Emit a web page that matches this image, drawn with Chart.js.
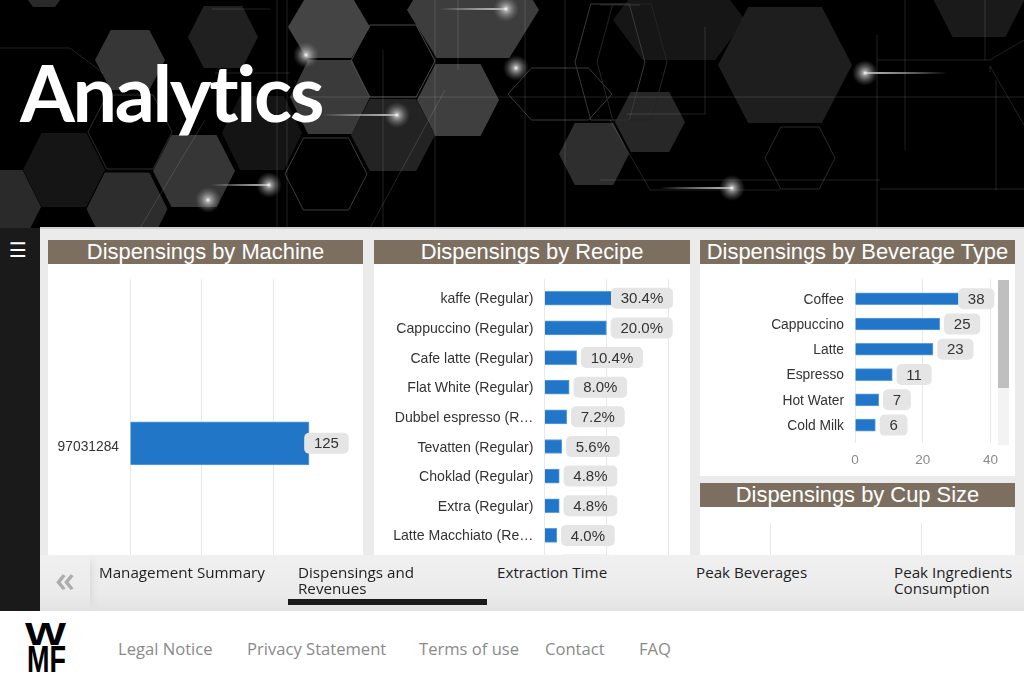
<!DOCTYPE html>
<html>
<head>
<meta charset="utf-8">
<title>Analytics</title>
<script src="https://cdn.jsdelivr.net/npm/chart.js@4/dist/chart.umd.js"></script>
<style>
html, body { margin: 0; padding: 0; width: 1024px; height: 683px; overflow: hidden; background: #fff; }
.abs { position: absolute; }
#hero { left: 0; top: 0; width: 1024px; height: 228px; background: #000; overflow: hidden; }
#heroArt { position: absolute; left: 0; top: 0; filter: blur(0.5px); }
#hero h1 { position: absolute; left: 20px; top: 38px; margin: 0; color: #fff; font: 700 79px Lato, sans-serif; letter-spacing: -2.3px; line-height: 108px; }
#side { left: 0; top: 228px; height: 383px; background: #1a1a1a; color: #fff; font: 20px "DejaVu Sans", sans-serif; text-align: center; line-height: 44px; width: 36px; padding-right: 4px; }
#content { left: 40px; top: 228px; width: 984px; height: 327px; background: #ebebeb; }
#topline { left: 40px; top: 227px; width: 984px; height: 2px; background: #cfcfcf; }
.head { background: #7d6f60; color: #fff; font: 21.9px "Liberation Sans", Arial, sans-serif; text-align: center; line-height: 24px; height: 24px; width: 315px; white-space: nowrap; }
.body { background: #fff; width: 315px; overflow: hidden; }
.body canvas { display: block; }
#nav { left: 40px; top: 555px; width: 984px; height: 56px; background: linear-gradient(#f0f0f0, #ebebeb 70%, #e2e2e2); font: 15.2px/16px "Open Sans", sans-serif; color: #1f1f1f; }
#nav div { position: absolute; top: 9px; white-space: nowrap; }
#arrow { left: 0; top: 0 !important; width: 50px; height: 56px; box-shadow: 7px 0 8px -6px #d4d4d4; color: #adadad; font: 600 36px/48px "Open Sans", sans-serif; text-align: center; }
#tabline { left: 248px; top: 44px !important; width: 199px; height: 6px; background: #1a1a1a; }
#footer { left: 0; top: 611px; width: 1024px; height: 72px; background: #fff; font: 16.6px "Open Sans", sans-serif; color: #8a8a8a; }
#footer span { position: absolute; top: 26px; white-space: nowrap; }
#thumb { left: 998px; top: 280px; width: 11px; height: 108px; background: #bfbfbf; }
#track { left: 998px; top: 388px; width: 11px; height: 57px; background: #f3f3f3; }
</style>
</head>
<body>
<div id="hero" class="abs">
  <svg id="heroArt" width="1024" height="228">
    <defs>
      <radialGradient id="glow">
        <stop offset="0" stop-color="#fff"/>
        <stop offset="0.2" stop-color="#ccc" stop-opacity="0.75"/>
        <stop offset="1" stop-color="#777" stop-opacity="0"/>
      </radialGradient>
      <linearGradient id="streakL" x1="0" x2="1">
        <stop offset="0" stop-color="#fff" stop-opacity="0"/>
        <stop offset="1" stop-color="#bbb"/>
      </linearGradient>
      <linearGradient id="streakR" x1="1" x2="0">
        <stop offset="0" stop-color="#fff" stop-opacity="0"/>
        <stop offset="1" stop-color="#bbb"/>
      </linearGradient>
    </defs>
  </svg>
  <h1>Analytics</h1>
</div>
<div id="side" class="abs">☰</div>
<div id="content" class="abs"></div>
<div id="topline" class="abs"></div>

<div class="abs head" style="left:48px;top:240px">Dispensings by Machine</div>
<div class="abs body" style="left:48px;top:264px;height:291px"><canvas id="machineChart" width="315" height="400"></canvas></div>

<div class="abs head" style="left:374px;top:240px;width:316px">Dispensings by Recipe</div>
<div class="abs body" style="left:374px;top:264px;height:291px;width:316px"><canvas id="recipeChart" width="316" height="400"></canvas></div>

<div class="abs head" style="left:700px;top:240px">Dispensings by Beverage Type</div>
<div class="abs body" style="left:700px;top:264px;height:212px"><canvas id="beverageChart" width="315" height="212"></canvas></div>
<div id="track" class="abs"></div>
<div id="thumb" class="abs"></div>

<div class="abs head" style="left:700px;top:483px">Dispensings by Cup Size</div>
<div class="abs body" style="left:700px;top:507px;height:48px"><canvas id="cupChart" width="315" height="200"></canvas></div>

<div id="nav" class="abs">
  <div id="arrow">«</div>
  <div style="left:59px">Management Summary</div>
  <div style="left:258px">Dispensings and<br>Revenues</div>
  <div style="left:457px">Extraction Time</div>
  <div style="left:656px">Peak Beverages</div>
  <div style="left:854px">Peak Ingredients<br>Consumption</div>
  <div id="tabline"></div>
</div>

<div id="footer" class="abs">
  <svg width="70" height="72" style="position:absolute;left:0;top:0">
    <text x="25" y="34" font-family="Liberation Sans" font-weight="bold" font-size="31" textLength="41" lengthAdjust="spacingAndGlyphs">W</text>
    <text x="27" y="61" font-family="Liberation Sans" font-weight="bold" font-size="36" textLength="39" lengthAdjust="spacingAndGlyphs">MF</text>
  </svg>
  <span style="left:118px">Legal Notice</span>
  <span style="left:247px">Privacy Statement</span>
  <span style="left:419px">Terms of use</span>
  <span style="left:545px">Contact</span>
  <span style="left:639px">FAQ</span>
</div>

<script>
const machineLabels = ['97031284'];
const machineValues = [125];

const recipeLabels = ['kaffe (Regular)', 'Cappuccino (Regular)', 'Cafe latte (Regular)', 'Flat White (Regular)',
  'Dubbel espresso (R…', 'Tevatten (Regular)', 'Choklad (Regular)', 'Extra (Regular)', 'Latte Macchiato (Re…', ''];
const recipePercent = [30.4, 20.0, 10.4, 8.0, 7.2, 5.6, 4.8, 4.8, 4.0, 3.2];

const beverageLabels = ['Coffee', 'Cappuccino', 'Latte', 'Espresso', 'Hot Water', 'Cold Milk'];
const beverageValues = [38, 25, 23, 11, 7, 6];

const cupLabels = [];
const cupValues = [];

// background picture of the header, just decoration
const heroFilled = [
  [130,60,35,30,'#363636'], [223,37,35,31,'#202020'], [329,27,41,31,'#444'], [473,10,66,48,'#3d3d3d'],
  [458,100,41,36,'#3f3f3f'], [330,97,40,37,'#3a3a3a'], [393,135,42,36,'#232323'], [262,133,40,37,'#141414'],
  [194,171,41,36,'#363636'], [64,170,41,37,'#151515'], [127,209,41,37,'#2d2d2d'], [0,207,41,37,'#2a2a2a'],
  [44,-5,20,12,'#2a2a2a'], [679,20,66,40,'#161616'], [785,65,67,58,'#1e1e1e'], [650,122,35,30,'#272727'],
  [594,154,35,31,'#2e2e2e'], [979,-5,48,42,'#1a1a1a']
];
const heroOutlined = [
  [393,61,42,36,'#4a4a4a'], [326,174,41,36,'#3c3c3c'], [130,132,42,37,'#2c2c2c'], [127,209,41,37,'#000'],
  [610,62,35,58,'#3a3a3a'], [560,94,52,26,'#3a3a3a'], [800,158,35,31,'#2a2a2a'], [632,62,35,58,'#242424']
];
const heroLines = [
  [277,0,277,228], [287,0,287,228], [383,50,383,228], [435,0,435,228], [458,0,458,70], [525,0,525,228],
  [565,0,565,228], [705,27,705,114], [627,114,705,114], [877,35,877,228], [905,0,905,150], [985,0,985,60],
  [996,80,996,190], [290,97,1024,97], [215,73,290,73], [0,48,60,48], [60,48,70,48], [70,48,103,73],
  [640,5,600,5], [212,9,270,9], [877,60,990,60], [990,60,1024,40], [990,66,1024,125], [600,180,880,180],
  [880,189,1024,189], [610,120,650,190], [650,190,780,190], [990,66,990,72], [140,228,205,120], [370,228,445,90]
];
const heroGlows = [[506,9,-66],[306,55,0],[516,68,0],[865,73,82],[397,115,-75],[269,185,-58],[208,200,0],[732,188,-72]];

function buildHero() {
  const svg = document.getElementById('heroArt');
  const add = (tag, attrs) => {
    const el = document.createElementNS('http://www.w3.org/2000/svg', tag);
    for (const k in attrs) el.setAttribute(k, attrs[k]);
    svg.appendChild(el);
  };
  const pts = h => {
    const c = h[0], t = h[1], r = h[2], s = h[3], q = r * 0.55;
    return [[c-r,t],[c-q,t-s],[c+q,t-s],[c+r,t],[c+q,t+s],[c-q,t+s]].map(p => p.join(',')).join(' ');
  };
  heroFilled.forEach(h => add('polygon', {points: pts(h), fill: h[4]}));
  heroOutlined.forEach(h => add('polygon', {points: pts(h), fill: 'none', stroke: h[4], 'stroke-width': 1}));
  heroLines.forEach(l => add('line', {x1: l[0], y1: l[1], x2: l[2], y2: l[3], stroke: '#fff', 'stroke-opacity': 0.13, 'stroke-width': 1}));
  heroGlows.forEach(g => {
    if (g[2] < 0) add('rect', {x: g[0]+g[2], y: g[1]-1, width: -g[2], height: 2, fill: 'url(#streakL)'});
    if (g[2] > 0) add('rect', {x: g[0], y: g[1]-1, width: g[2], height: 2, fill: 'url(#streakR)'});
    add('circle', {cx: g[0], cy: g[1], r: 13, fill: 'url(#glow)'});
  });
}
buildHero();

// grey pill with the value, pushed back inside when it would run over the right limit
const pillPlugin = {
  id: 'valuePills',
  afterDatasetsDraw(chart, args, opts) {
    const ctx = chart.ctx;
    const values = chart.data.datasets[0].data;
    ctx.save();
    ctx.font = '15px "Liberation Sans", Arial, sans-serif';
    ctx.textAlign = 'center';
    ctx.textBaseline = 'middle';
    chart.getDatasetMeta(0).data.forEach((bar, i) => {
      const text = opts.format(values[i].x);
      const w = ctx.measureText(text).width + 19.5;
      const left = Math.min(bar.x + 4.3, opts.limit - w);
      ctx.fillStyle = '#e5e5e5';
      ctx.beginPath();
      ctx.roundRect(left, bar.y - 10.5, w, 21, 5);
      ctx.fill();
      ctx.fillStyle = '#333';
      ctx.fillText(text, left + w / 2, bar.y + 1);
    });
    ctx.restore();
  }
};

// labels may stick out of the plot, keep the plot box where it was asked for
function noPadding(scale) {
  scale.paddingLeft = scale.paddingRight = scale.paddingTop = scale.paddingBottom = 0;
}

function makeChart(id, labels, values, o) {
  const canvas = document.getElementById(id);
  return new Chart(canvas, {
    type: 'bar',
    data: {
      datasets: [{
        data: values.map((v, i) => ({x: v, y: i})),
        backgroundColor: '#2176c8',
        borderColor: '#5c9fe3',
        borderWidth: 1,
        barThickness: o.thick
      }]
    },
    options: {
      indexAxis: 'y',
      responsive: false,
      animation: false,
      layout: {padding: {top: o.top, right: canvas.width - o.right, left: 0, bottom: 0}},
      plugins: {
        legend: {display: false},
        tooltip: {enabled: false},
        valuePills: {limit: o.limit, format: o.format}
      },
      scales: {
        x: {
          min: 0,
          max: o.xMax,
          border: {display: false},
          grid: {color: '#e8e8e8', drawTicks: false},
          afterFit(scale) { scale.height = o.axisH; noPadding(scale); },
          ticks: {
            stepSize: o.step,
            includeBounds: false,
            maxRotation: 0,
            padding: 9,
            color: '#8a8a8a',
            font: {family: '"Liberation Sans"', size: 13.5}
          }
        },
        y: {
          type: 'linear',
          offset: false,
          reverse: true,
          min: o.yMin,
          max: o.yMax,
          border: {display: false},
          grid: {display: false, drawTicks: false},
          afterFit(scale) { scale.width = o.left; noPadding(scale); },
          ticks: {
            stepSize: 1,
            includeBounds: false,
            autoSkip: false,
            padding: 11,
            labelOffset: o.labelShift || 0,
            color: '#333',
            font: {family: '"Liberation Sans"', size: o.labelSize},
            callback: v => labels[v] || ''
          }
        }
      }
    },
    plugins: [pillPlugin]
  });
}

const plain = v => String(v);
const percent = v => v.toFixed(1) + '%';

makeChart('machineChart', machineLabels, machineValues, {
  left: 82, right: 282.5, top: 15.3, axisH: 73.1, xMax: 140, step: 50,
  yMin: -0.5, yMax: 0.45, thick: 43, limit: 300.7, format: plain, labelSize: 13.8, labelShift: 3.4
});
makeChart('recipeChart', recipeLabels, recipePercent, {
  left: 170.4, right: 300.6, top: 15.3, axisH: 64, xMax: 42, step: 20,
  yMin: -0.64, yMax: 10.18, thick: 14, limit: 299, format: percent, labelSize: 14.1, labelShift: 1.2
});
makeChart('beverageChart', beverageLabels, beverageValues, {
  left: 155, right: 297.4, top: 15.3, axisH: 32.7, xMax: 42, step: 20,
  yMin: -0.768, yMax: 5.72, thick: 12, limit: 294.3, format: plain, labelSize: 13.8, labelShift: 1
});
makeChart('cupChart', cupLabels, cupValues, {
  left: 70.7, right: 300.2, top: 15.7, axisH: 30, xMax: 1.52, step: 1,
  yMin: -0.5, yMax: 0.45, thick: 12, limit: 294, format: plain, labelSize: 13.8
});
</script>
</body>
</html>
